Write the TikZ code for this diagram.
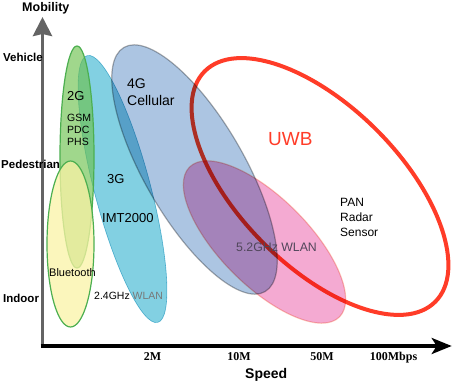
\documentclass[tikz,border=0pt]{standalone}
\usepackage{fontspec}
\setmainfont{Liberation Sans}
\newfontfamily\tickfont{Liberation Serif}
\usetikzlibrary{arrows.meta}
\tikzset{>=stealth}
\definecolor{axisgray}{RGB}{100,100,100}
\definecolor{twogfill}{RGB}{109,193,78}
\definecolor{twogline}{RGB}{76,175,80}
\definecolor{btfill}{RGB}{250,243,165}
\definecolor{threegfill}{RGB}{130,208,226}
\definecolor{threegline}{RGB}{110,195,220}
\definecolor{fourgfill}{RGB}{172,197,226}
\definecolor{fourgline}{RGB}{178,178,178}
\definecolor{wlanfill}{RGB}{244,170,210}
\definecolor{wlanline}{RGB}{252,200,185}
\definecolor{uwbred}{RGB}{255,60,40}
\definecolor{wlangray}{RGB}{120,120,120}
\definecolor{wlantext}{RGB}{80,70,90}
\tikzset{
  lbl/.style={inner sep=0pt, anchor=base west},
  axislbl/.style={lbl, font=\bfseries\fontsize{11.5}{13}\selectfont},
  tick/.style={inner sep=0pt, anchor=base, font=\tickfont\bfseries\fontsize{12}{14}\selectfont},
  zone/.style={line width=1.2pt, blend mode=multiply},
}

\begin{document}
\begin{tikzpicture}[x=1pt,y=-1pt]
    \useasboundingbox (0,0) rectangle (452,382);
    \draw[uwbred, line width=4pt] (320,186.5) ellipse [x radius=163pt, y radius=80pt, rotate=-45];
    \draw[zone, fill=threegfill, draw=threegline, line width=0.6pt] (122.5,189) ellipse [x radius=28pt, y radius=138pt, rotate=14.8];
    \draw[fill=twogfill, fill opacity=0.65, draw=twogline, line width=1.2pt] (77,157) ellipse [x radius=17pt, y radius=111pt];
    \draw[fill=btfill, fill opacity=0.75, draw=twogline, line width=1.2pt] (70.5,244) ellipse [x radius=23.5pt, y radius=83pt];
    \draw[zone, fill=fourgfill, draw=fourgline] (194.5,169.5) ellipse [x radius=141pt, y radius=50pt, rotate=-60];
    \draw[zone, fill=wlanfill, draw=wlanline] (264.5,242) ellipse [x radius=106pt, y radius=44pt, rotate=-45];
    \draw[axisgray, line width=3.7pt, -{Stealth[length=19pt,width=19pt,inset=2pt]}] (42.5,348) -- (42.5,17);
    \draw[line width=3.5pt, -{Stealth[length=20pt,width=16pt,inset=5pt]}] (40.7,346) -- (451.7,346);
    \node[lbl, font=\bfseries\fontsize{12.5}{14}\selectfont] (mobility) at (22,12) {Mobility};
    \node[axislbl] (vehicle) at (3,62) {Vehicle};
    \node[axislbl] (pedestrian) at (1,168) {Pedestrian};
    \node[axislbl] (indoor) at (3,302) {Indoor};
    \node[lbl, font=\bfseries\fontsize{14}{16}\selectfont] (speed) at (245,378) {Speed};
    \node[tick] (tick2m) at (152.5,360) {2M};
    \node[tick] (tick10m) at (239,360) {10M};
    \node[tick] (tick50m) at (322,360) {50M};
    \node[tick] (tick100m) at (393.5,360) {100Mbps};
    \node[lbl, font=\fontsize{13}{15}\selectfont] (lbl2g) at (67,101) {2G};
    \node[lbl, align=left, font=\fontsize{10.5}{12}\selectfont] (lblgsm) at (67,146) {GSM\\PDC\\PHS};
    \node[lbl, font=\fontsize{13}{15}\selectfont] (lbl3g) at (107,183) {3G};
    \node[lbl, font=\fontsize{13}{15}\selectfont] (lblimt) at (102,222) {IMT2000};
    \node[lbl, font=\fontsize{11}{13}\selectfont] (lblbt) at (49,276) {Bluetooth};
    \node[lbl, font=\fontsize{10.5}{12}\selectfont] (lblwlan24) at (94,299) {2.4GHz {\color{wlangray}WLAN}};
    \node[lbl, align=left, font=\fontsize{14}{17}\selectfont] (lbl4g) at (127,106) {4G\\Cellular};
    \node[lbl, text=uwbred, font=\fontsize{19}{22}\selectfont] (lbluwb) at (268,146) {UWB};
    \node[lbl, align=left, font=\fontsize{12}{14.7}\selectfont] (lblpan) at (340,236) {PAN\\Radar\\Sensor};
    \node[lbl, text=wlantext, font=\fontsize{12.3}{14}\selectfont] (lblwlan52) at (236,251) {5.2GHz WLAN};
\end{tikzpicture}
\end{document}
